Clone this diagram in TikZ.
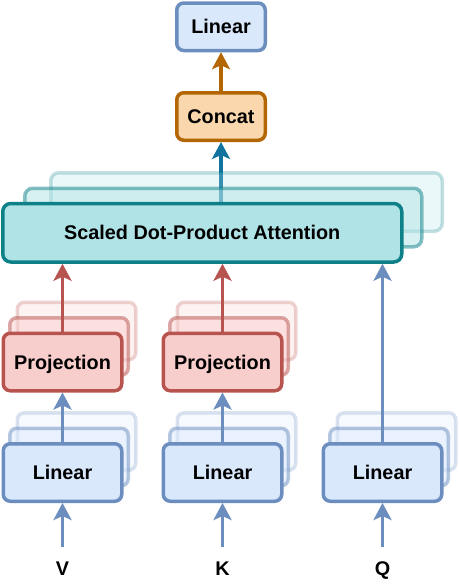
\documentclass[tikz,border=0pt]{standalone}
\usepackage{fontspec}
\setmainfont{Liberation Sans}
\usetikzlibrary{arrows.meta}
\definecolor{linF}{HTML}{DAE8FC}
\definecolor{linD}{HTML}{6C8EBF}
\definecolor{proF}{HTML}{F8CECC}
\definecolor{proD}{HTML}{B85450}
\definecolor{conF}{HTML}{FAD7AC}
\definecolor{conD}{HTML}{B46504}
\definecolor{attF}{HTML}{B0E3E6}
\definecolor{attD}{HTML}{0E8088}
\definecolor{attA}{HTML}{10739E}
\pgfdeclarelayer{bg}
\pgfdeclarelayer{mid}
\pgfsetlayers{bg,mid,main}
\begin{document}
\begin{tikzpicture}[x=1pt,y=-1pt,
  box/.style={rounded corners=7pt, line width=3.5pt, inner sep=0pt, align=center,
    text height=14.2pt, text depth=0pt,
    font=\fontsize{19.8}{23}\selectfont\bfseries},
  linbox/.style={box, draw=linD, fill=linF, minimum width=118.5pt, minimum height=57.5pt},
  probox/.style={box, draw=proD, fill=proF, minimum width=118.5pt, minimum height=57.5pt},
  topbox/.style={box, draw=linD, fill=linF, minimum width=88.5pt, minimum height=47.5pt},
  conbox/.style={box, draw=conD, fill=conF, minimum width=88.5pt, minimum height=47.5pt},
  attbox/.style={box, rounded corners=8pt, draw=attD, fill=attF, minimum height=58.5pt},
  copyA/.style={opacity=0.5},
  copyB/.style={opacity=0.25},
  lbl/.style={inner sep=0pt, anchor=base, font=\fontsize{19.8}{23}\selectfont\bfseries},
  arr/.style={line width=3.5pt, -{Stealth[length=17pt,width=18pt,inset=4pt]}}]
\useasboundingbox (0,0) rectangle (459,587);

% ---- SDPA (back copies on a lower layer, arrow to Concat beneath them)
\begin{pgfonlayer}{mid}
\node[attbox, copyB, minimum width=391.5pt] (att3) at (246.5,202) {};
\node[attbox, copyA, minimum width=397pt] (att2) at (223.25,217.5) {};
\end{pgfonlayer}
\node[attbox, minimum width=399pt] (att) at (202.25,232.75) {Scaled Dot-Product Attention};

% ---- top
\node[topbox] (out) at (221,26.75) {Linear};
\node[conbox] (cat) at (221,116.5) {Concat};

% ---- projections
\foreach \n/\x in {pv/62.5, pk/222.5}{
  \node[probox, copyB] (\n3) at (\x+14,331) {};
  \node[probox, copyA] (\n2) at (\x+6.5,346.5) {};
}
\node[probox] (pv) at (62.5,362) {Projection};
\node[probox] (pk) at (222.5,362) {Projection};

% ---- linears
\foreach \n/\x in {lv/62.5, lk/222.5, lq/382.5}{
  \node[linbox, copyB] (\n3) at (\x+14,441.5) {};
  \node[linbox, copyA] (\n2) at (\x+6.5,457) {};
}
\node[linbox] (lv) at (62.5,472.5) {Linear};
\node[linbox] (lk) at (222.5,472.5) {Linear};
\node[linbox] (lq) at (382.5,472.5) {Linear};

% ---- inputs
\node[lbl] (V) at (62.5,575) {V};
\node[lbl] (K) at (222.5,575) {K};
\node[lbl] (Q) at (382.5,575) {Q};

% ---- connectors
\begin{pgfonlayer}{bg}
\draw[arr, draw=attA, fill=attA] (att.north -| cat) -- (cat.south);
\end{pgfonlayer}
\draw[arr, draw=conD, fill=conD] (cat.north) -- (out.south);

\draw[arr, draw=linD, fill=linD, shorten <=14pt] (V.north) -- (lv.south);
\draw[arr, draw=linD, fill=linD, shorten <=14pt] (K.north) -- (lk.south);
\draw[arr, draw=linD, fill=linD, shorten <=14pt] (Q.north) -- (lq.south);

\draw[arr, draw=linD, fill=linD] (lv.north) -- (pv.south);
\draw[arr, draw=linD, fill=linD] (lk.north) -- (pk.south);
\draw[arr, draw=linD, fill=linD] (lq.north) -- (lq |- att.south);

\draw[arr, draw=proD, fill=proD] (pv.north) -- (pv |- att.south);
\draw[arr, draw=proD, fill=proD] (pk.north) -- (pk |- att.south);
\end{tikzpicture}
\end{document}
